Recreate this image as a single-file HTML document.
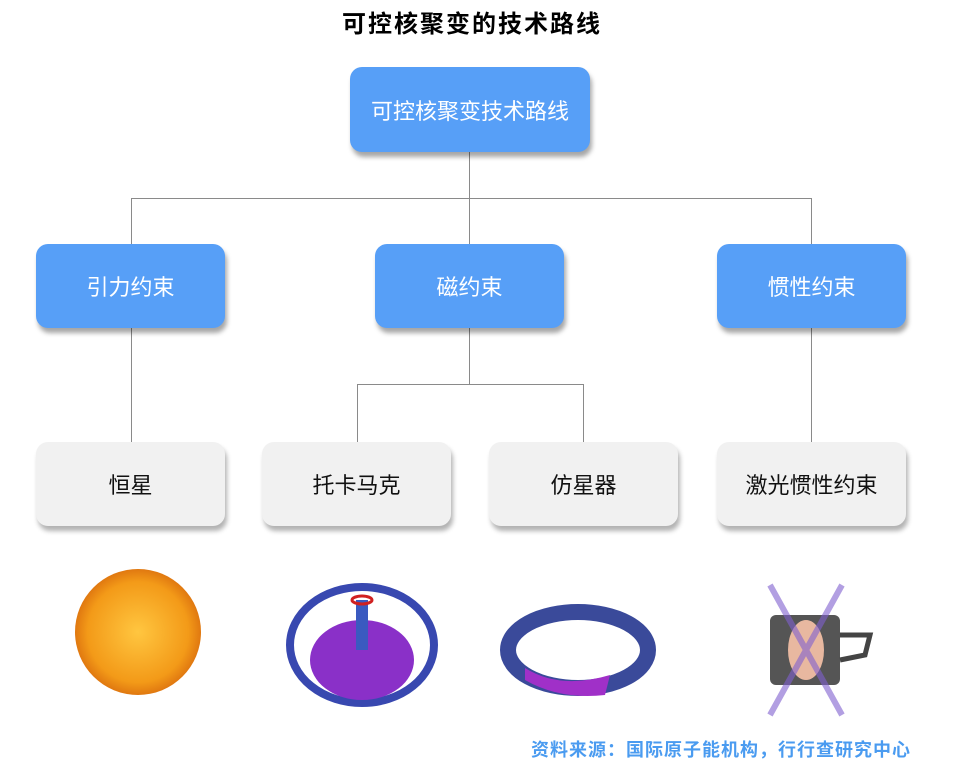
<!DOCTYPE html>
<html><head><meta charset="utf-8"><style>
body{margin:0;width:972px;height:764px;background:#fff;position:relative;overflow:hidden;font-family:"Liberation Sans","Noto Sans CJK SC",sans-serif}
.b{position:absolute;border-radius:12px;display:flex;align-items:center;justify-content:center;font-size:22px}
.blue{background:#579ff7;color:#fff;box-shadow:2px 5px 5px rgba(0,0,0,.35)}
.gray{background:#f1f1f1;color:#111;box-shadow:2px 5px 5px rgba(0,0,0,.3)}
.l{position:absolute;background:#8a8a8a}
</style></head><body>
<div style="position:absolute;top:4px;left:340px;width:264px;text-align:center;font-size:24px;letter-spacing:2px;font-weight:bold;color:#000;white-space:nowrap">可控核聚变的技术路线</div>
<div class="l" style="left:469px;top:152px;width:1px;height:92px"></div>
<div class="l" style="left:131px;top:198px;width:681px;height:1px"></div>
<div class="l" style="left:131px;top:198px;width:1px;height:46px"></div>
<div class="l" style="left:811px;top:198px;width:1px;height:46px"></div>
<div class="l" style="left:131px;top:328px;width:1px;height:114px"></div>
<div class="l" style="left:811px;top:328px;width:1px;height:114px"></div>
<div class="l" style="left:469px;top:328px;width:1px;height:56px"></div>
<div class="l" style="left:357px;top:384px;width:227px;height:1px"></div>
<div class="l" style="left:357px;top:384px;width:1px;height:58px"></div>
<div class="l" style="left:583px;top:384px;width:1px;height:58px"></div>
<div class="b blue" style="left:350px;top:67px;width:240px;height:85px">可控核聚变技术路线</div>
<div class="b blue" style="left:36px;top:244px;width:189px;height:84px">引力约束</div>
<div class="b blue" style="left:375px;top:244px;width:189px;height:84px">磁约束</div>
<div class="b blue" style="left:717px;top:244px;width:189px;height:84px">惯性约束</div>
<div class="b gray" style="left:36px;top:442px;width:189px;height:84px">恒星</div>
<div class="b gray" style="left:262px;top:442px;width:189px;height:84px">托卡马克</div>
<div class="b gray" style="left:489px;top:442px;width:189px;height:84px">仿星器</div>
<div class="b gray" style="left:717px;top:442px;width:189px;height:84px">激光惯性约束</div>
<svg style="position:absolute;left:0;top:0" width="972" height="764">
<defs><radialGradient id="s" cx="50%" cy="50%" r="50%"><stop offset="0" stop-color="#ffc640"/><stop offset=".8" stop-color="#f39a18"/><stop offset="1" stop-color="#e07810"/></radialGradient></defs>
<circle cx="138" cy="632" r="63" fill="url(#s)"/>
<ellipse cx="362" cy="645" rx="72" ry="58" fill="none" stroke="#3848b0" stroke-width="8"/>
<ellipse cx="362" cy="660" rx="52" ry="40" fill="#8a30c8"/>
<rect x="356" y="600" width="12" height="50" fill="#3a5ac0"/>
<ellipse cx="362" cy="600" rx="10" ry="4" fill="none" stroke="#d02020" stroke-width="3"/>
<ellipse cx="578" cy="650" rx="70" ry="38" fill="none" stroke="#3a4a9a" stroke-width="16"/>
<path d="M525 668 Q560 690 610 675 L605 695 Q560 700 525 680Z" fill="#a030c8"/>
<rect x="770" y="615" width="70" height="70" rx="6" fill="#555"/>
<ellipse cx="806" cy="650" rx="18" ry="30" fill="#e8b8a0"/>
<path d="M770 585 L842 715 M842 585 L770 715" stroke="#8060d0" stroke-width="6" opacity=".6"/>
<path d="M840 635 L870 635 L865 655 L840 660" fill="none" stroke="#444" stroke-width="5"/>
</svg>
<div style="position:absolute;left:531px;top:736px;font-size:18px;letter-spacing:1px;font-weight:bold;color:#4a9bf0;white-space:nowrap">资料来源：国际原子能机构，行行查研究中心</div>
</body></html>
